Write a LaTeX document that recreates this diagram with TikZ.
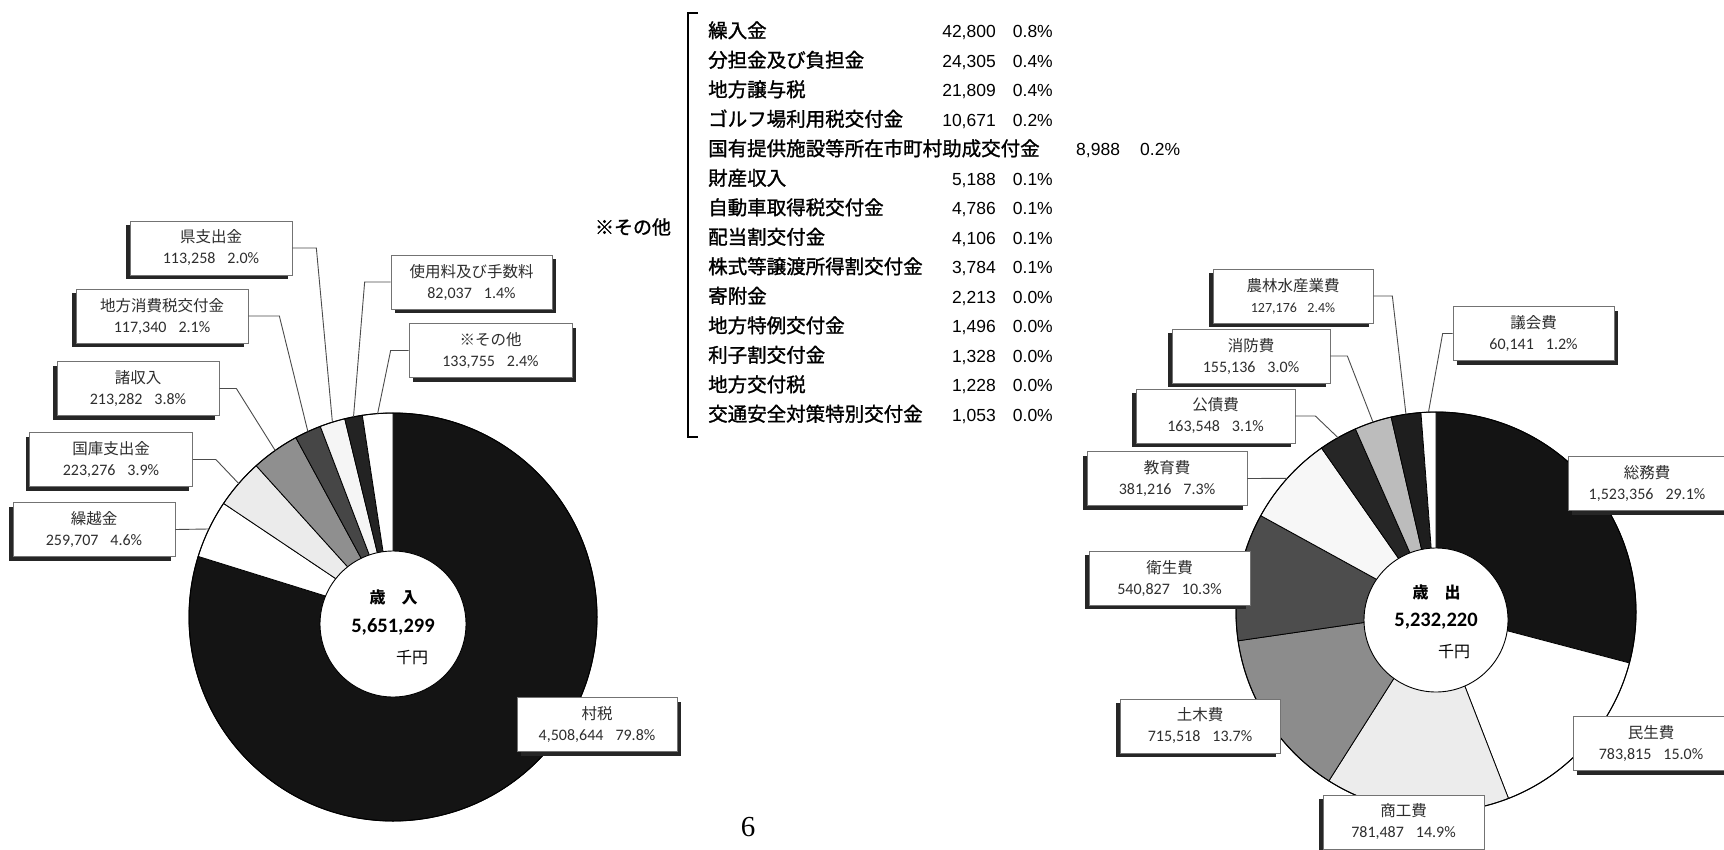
\documentclass[tikz,border=0pt]{standalone}
\usepackage{fontspec}
\setmainfont{Noto Sans CJK JP}
\newfontfamily\jpfont{Noto Sans CJK JP}
\newfontfamily\jplistfont[FakeBold=1.3]{Noto Sans CJK JP}
\newfontfamily\calfont{Carlito}
\newfontfamily\arialfont{Liberation Sans}
\newfontfamily\seriffont{Liberation Serif}
\usetikzlibrary{calc,shadows}
\definecolor{k14}{HTML}{141414}
\definecolor{kEB}{HTML}{EBEBEB}
\definecolor{k8F}{HTML}{8F8F8F}
\definecolor{k46}{HTML}{464646}
\definecolor{kF5}{HTML}{F5F5F5}
\definecolor{k23}{HTML}{232323}
\definecolor{kEC}{HTML}{ECECEC}
\definecolor{k8C}{HTML}{8C8C8C}
\definecolor{k4D}{HTML}{4D4D4D}
\definecolor{kF7}{HTML}{F7F7F7}
\definecolor{k26}{HTML}{262626}
\definecolor{kBC}{HTML}{BCBCBC}
\definecolor{k1E}{HTML}{1E1E1E}
\newcommand\boxtitle[1]{{\jpfont\fontsize{15.5}{21}\selectfont #1}}
\newcommand\boxnum[1]{{\calfont\fontsize{16}{21}\selectfont #1}}
\newcommand\boxnumsm[1]{{\calfont\fontsize{14}{21}\selectfont #1}}
\newcommand\numgap{\hspace{0.75em}}
\newcommand\pieslice[5]{\fill[fill=#5, slice] (#1) -- ++(#3:#2pt) arc[start angle=#3, end angle=#4, radius=#2pt] -- cycle;}
\begin{document}
\begin{tikzpicture}[x=1pt,y=-1pt,
  slice/.style={draw=black, line width=0.8pt},
  lbox/.style={draw=black!55, line width=0.7pt, fill=white, minimum height=54pt,
    inner sep=0pt, align=center, text=black!82, font=\fontsize{15.5}{21}\selectfont},
  lboxL/.style={lbox, general shadow={shadow xshift=-4pt, shadow yshift=-4pt, fill=black!85}},
  lboxR/.style={lbox, general shadow={shadow xshift=4pt, shadow yshift=-4pt, fill=black!85}},
  leader/.style={draw=black!70, line width=0.9pt},
  listjp/.style={inner sep=0pt, font=\jplistfont\fontsize{19.5}{19.5}\selectfont},
  listnum/.style={inner sep=0pt, font=\arialfont\fontsize{17.5}{17.5}\selectfont},
  ctrjp/.style={inner sep=0pt, font=\jpfont\bfseries\fontsize{16}{16}\selectfont},
  ctrnum/.style={inner sep=0pt, font=\calfont\bfseries\fontsize{20.5}{20.5}\selectfont},
  ctryen/.style={inner sep=0pt, font=\jpfont\fontsize{16}{16}\selectfont}]
\useasboundingbox (0,0) rectangle (1724,849);
\fill[white] (0,0) rectangle (1724,849);

% ---------------- left donut (revenue)
\coordinate (L) at (393,617);
\coordinate (Li) at (393,624);
\pieslice{L}{204}{90}{-197.28}{k14}
\pieslice{L}{204}{-197.28}{-213.84}{white}
\pieslice{L}{204}{-213.84}{-227.88}{kEB}
\pieslice{L}{204}{-227.88}{-241.56}{k8F}
\pieslice{L}{204}{-241.56}{-249.12}{k46}
\pieslice{L}{204}{-249.12}{-256.32}{kF5}
\pieslice{L}{204}{-256.32}{-261.36}{k23}
\pieslice{L}{204}{-261.36}{-270}{white}
\draw[line width=1pt] (L) circle[radius=204pt];
\fill[white, draw=black, line width=0.9pt] (Li) circle[radius=73pt];

\coordinate (rKur) at ($(L)+(154.44:204pt)$);
\coordinate (rKok) at ($(L)+(139.14:204pt)$);
\coordinate (rSho) at ($(L)+(125.28:204pt)$);
\coordinate (rChi) at ($(L)+(114.66:204pt)$);
\coordinate (rKen) at ($(L)+(107.28:204pt)$);
\coordinate (rShi) at ($(L)+(101.16:204pt)$);
\coordinate (rSon) at ($(L)+(94.32:204pt)$);

\node[lboxL, minimum width=162pt] (bKen) at (211,248) {\boxtitle{県支出金}\\\boxnum{113,258\numgap 2.0\%}};
\node[lboxL, minimum width=172pt] (bChi) at (162,316) {\boxtitle{地方消費税交付金}\\\boxnum{117,340\numgap 2.1\%}};
\node[lboxL, minimum width=162pt] (bSho) at (138,388.5) {\boxtitle{諸収入}\\\boxnum{213,282\numgap 3.8\%}};
\node[lboxL, minimum width=163pt] (bKok) at (111,459.5) {\boxtitle{国庫支出金}\\\boxnum{223,276\numgap 3.9\%}};
\node[lboxL, minimum width=162pt] (bKur) at (94,529.5) {\boxtitle{繰越金}\\\boxnum{259,707\numgap 4.6\%}};
\node[lboxR, minimum width=161pt] (bShi) at (471.5,282) {\boxtitle{使用料及び手数料}\\\boxnum{82,037\numgap 1.4\%}};
\node[lboxR, minimum width=163pt] (bSon) at (490.5,350.5) {\boxtitle{※その他}\\\boxnum{133,755\numgap 2.4\%}};
\node[lboxR, minimum width=160pt] (bSon2) at (597,724.5) {\boxtitle{村税}\\\boxnum{4,508,644\numgap 79.8\%}};

\draw[leader] (bKen.east) -- ++(24pt,0) -- (rKen);
\draw[leader] (bChi.east) -- ++(31pt,0) -- (rChi);
\draw[leader] (bSho.east) -- ++(17pt,0) -- (rSho);
\draw[leader] (bKok.east) -- ++(23pt,0) -- (rKok);
\draw[leader] (bKur.east) -- (rKur);
\draw[leader] (bShi.west) -- ++(-26pt,0) -- (rShi);
\draw[leader] (bSon.west) -- ++(-18pt,0) -- (rSon);

\node[ctrjp] (tL1) at (393.5,597) {歳　入};
\node[ctrnum] (tL2) at (393,627) {5,651,299};
\node[ctryen] (tL3) at (412,658) {千円};

% ---------------- right donut (expenditure)
\coordinate (R) at (1436,612);
\coordinate (Ri) at (1436,620);
\pieslice{R}{200}{90}{-14.76}{k14}
\pieslice{R}{200}{-14.76}{-68.76}{white}
\pieslice{R}{200}{-68.76}{-122.4}{kEC}
\pieslice{R}{200}{-122.4}{-171.72}{k8C}
\pieslice{R}{200}{-171.72}{-208.8}{k4D}
\pieslice{R}{200}{-208.8}{-235.08}{kF7}
\pieslice{R}{200}{-235.08}{-246.24}{k26}
\pieslice{R}{200}{-246.24}{-257.04}{kBC}
\pieslice{R}{200}{-257.04}{-265.68}{k1E}
\pieslice{R}{200}{-265.68}{-270}{white}
\draw[line width=1pt] (R) circle[radius=200pt];
\fill[white, draw=black, line width=0.9pt] (Ri) circle[radius=72pt];

\coordinate (rNor) at ($(R)+(98.64:200pt)$);
\coordinate (rGik) at ($(R)+(92.16:200pt)$);
\coordinate (rSyo) at ($(R)+(108.36:200pt)$);
\coordinate (rKos) at ($(R)+(119.34:200pt)$);
\coordinate (rKyo) at ($(R)+(138.06:200pt)$);

\node[lboxL, minimum width=160pt] (bNor) at (1293,296) {\boxtitle{農林水産業費}\\\boxnumsm{127,176\numgap 2.4\%}};
\node[lboxR, minimum width=161pt] (bGik) at (1533.5,333.5) {\boxtitle{議会費}\\\boxnum{60,141\numgap 1.2\%}};
\node[lboxL, minimum width=158pt] (bSyo) at (1251,356) {\boxtitle{消防費}\\\boxnum{155,136\numgap 3.0\%}};
\node[lboxL, minimum width=159pt] (bKos) at (1215.5,416) {\boxtitle{公債費}\\\boxnum{163,548\numgap 3.1\%}};
\node[lboxL, minimum width=160pt] (bKyo) at (1167,478.5) {\boxtitle{教育費}\\\boxnum{381,216\numgap 7.3\%}};
\node[lboxL, minimum width=161pt] (bEis) at (1169.5,578) {\boxtitle{衛生費}\\\boxnum{540,827\numgap 10.3\%}};
\node[lboxL, minimum width=160pt] (bDob) at (1200,726) {\boxtitle{土木費}\\\boxnum{715,518\numgap 13.7\%}};
\node[lboxL, minimum width=161pt] (bSko) at (1403.5,822) {\boxtitle{商工費}\\\boxnum{781,487\numgap 14.9\%}};
\node[lboxR, minimum width=158pt] (bSom) at (1647,483.5) {\boxtitle{総務費}\\\boxnum{1,523,356\numgap 29.1\%}};
\node[lboxR, minimum width=156pt] (bMin) at (1651,743.5) {\boxtitle{民生費}\\\boxnum{783,815\numgap 15.0\%}};

\draw[leader] (bNor.east) -- ++(19pt,0) -- (rNor);
\draw[leader] (bGik.west) -- ++(-10pt,0) -- (rGik);
\draw[leader] (bSyo.east) -- ++(17pt,0) -- (rSyo);
\draw[leader] (bKos.east) -- ++(20pt,0) -- (rKos);
\draw[leader] (bKyo.east) -- (rKyo);

\node[ctrjp] (tR1) at (1436.5,592) {歳　出};
\node[ctrnum] (tR2) at (1436,621) {5,232,220};
\node[ctryen] (tR3) at (1454,652) {千円};

% ---------------- list of "others"
\node[inner sep=0pt, font=\jplistfont\fontsize{19}{19}\selectfont] (sonota) at (633,227) {※その他};
\coordinate (brA) at (698,13);
\coordinate (brB) at (688,13);
\coordinate (brC) at (688,437);
\coordinate (brD) at (698,437);
\draw[line width=2.6pt, line join=miter] (brA) -- (brB) -- (brC) -- (brD);

\foreach \i/\t/\n/\p in {1/繰入金/{42,800}/{0.8\%},
  2/分担金及び負担金/{24,305}/{0.4\%},
  3/地方譲与税/{21,809}/{0.4\%},
  4/ゴルフ場利用税交付金/{10,671}/{0.2\%},
  6/財産収入/{5,188}/{0.1\%},
  7/自動車取得税交付金/{4,786}/{0.1\%},
  8/配当割交付金/{4,106}/{0.1\%},
  9/株式等譲渡所得割交付金/{3,784}/{0.1\%},
  10/寄附金/{2,213}/{0.0\%},
  11/地方特例交付金/{1,496}/{0.0\%},
  12/利子割交付金/{1,328}/{0.0\%},
  13/地方交付税/{1,228}/{0.0\%},
  14/交通安全対策特別交付金/{1,053}/{0.0\%}} {
  \node[listjp, anchor=mid west] (li\i) at (708,{35+(\i-1)*29.5}) {\t};
  \node[listnum, anchor=mid east] (ln\i) at (996,{35+(\i-1)*29.5}) {\n};
  \node[listnum, anchor=mid east] (lp\i) at (1053,{35+(\i-1)*29.5}) {\p};
}
\node[listjp, anchor=mid west] (li5) at (708,153) {国有提供施設等所在市町村助成交付金};
\node[listnum, anchor=mid west] (ln5) at (1076,153) {8,988};
\node[listnum, anchor=mid west] (lp5) at (1140,153) {0.2\%};

% page number
\node[inner sep=0pt, font=\seriffont\fontsize{29}{29}\selectfont] (pg) at (748,827) {6};
\end{tikzpicture}
\end{document}
